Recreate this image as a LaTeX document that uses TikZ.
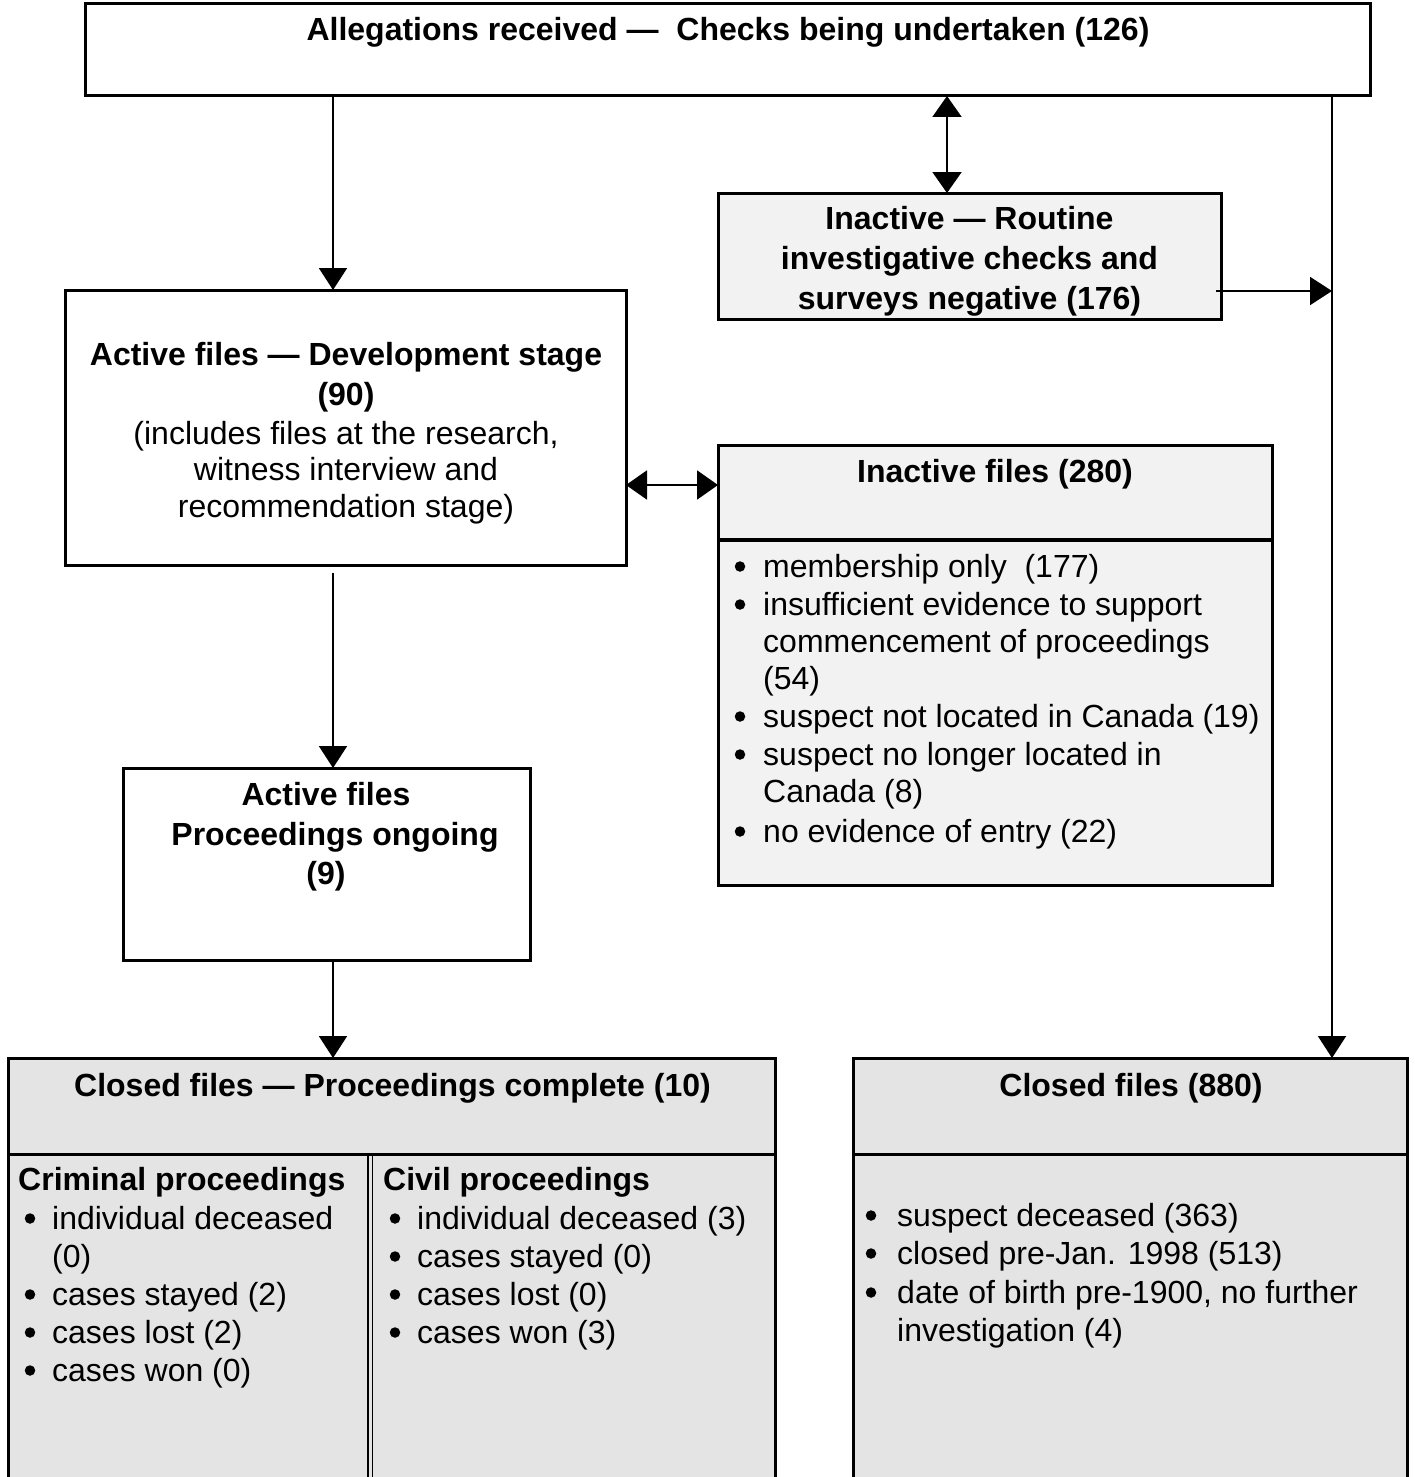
\documentclass[tikz,border=0pt]{standalone}
\usepackage{fontspec}
\setmainfont{Liberation Sans}
\usetikzlibrary{arrows.meta}
\definecolor{lgray}{HTML}{F2F2F2}
\definecolor{mgray}{HTML}{E4E4E4}
\newcommand\fsz{\fontsize{32pt}{37pt}\selectfont}
\begin{document}
\begin{tikzpicture}[x=1pt,y=-1pt,
  box/.style={draw, line width=3pt, inner sep=0pt, outer sep=0pt},
  arr/.style={line width=2pt, -{Triangle[length=22pt,width=28pt]}},
  darr/.style={line width=2pt, {Triangle[length=21pt,width=29pt]}-{Triangle[length=21pt,width=29pt]}},
  tc/.style={anchor=base, inner sep=0pt, font=\fsz},
  tb/.style={anchor=base, inner sep=0pt, font=\fsz\bfseries},
  tl/.style={anchor=base west, inner sep=0pt, font=\fsz},
  tbl/.style={anchor=base west, inner sep=0pt, font=\fsz\bfseries},
  bul/.style={circle, fill=black, inner sep=0pt, minimum size=10.5pt, yshift=10.5pt}
]
\useasboundingbox (0,0) rectangle (1415,1477);
\clip (0,0) rectangle (1415,1477);

% boxes
\node[box, fill=white, minimum width=1285pt, minimum height=92pt] (top) at (727.5,50) {};
\node[box, fill=lgray, minimum width=503pt, minimum height=126pt] (routine) at (969.5,256) {};
\node[box, fill=white, minimum width=561pt, minimum height=275pt] (active) at (345.5,427.5) {};
\node[box, fill=lgray, minimum width=554pt, minimum height=440pt] (inactive) at (995,665) {};
\node[box, fill=white, minimum width=407pt, minimum height=192pt] (proc) at (326.5,864) {};
\node[box, fill=mgray, minimum width=767pt, minimum height=442pt] (closedA) at (391.5,1279) {};
\node[box, fill=mgray, minimum width=554pt, minimum height=442pt] (closedB) at (1130,1279) {};

% separators
\coordinate (sepI) at (0,540);
\draw[line width=4.5pt] (inactive.west |- sepI) -- (inactive.east |- sepI);
\coordinate (sepC) at (0,1154);
\draw[line width=3pt] (closedA.west |- sepC) -- (closedA.east |- sepC);
\draw[line width=3pt] (closedB.west |- sepC) -- (closedB.east |- sepC);
\coordinate (colL) at (368,1154);
\coordinate (colR) at (372.5,1154);
\draw[line width=1.5pt] (colL) -- (colL |- closedA.south);
\draw[line width=1.5pt] (colR) -- (colR |- closedA.south);

% connectors
\coordinate (xL) at (333,0);
\coordinate (xM) at (947,0);
\coordinate (xR) at (1332,0);
\coordinate (yR) at (0,291);
\coordinate (yA) at (0,485);
\coordinate (sA) at (333,573);
\draw[arr] (top.south -| xL) -- (active.north -| xL);
\draw[darr] (top.south -| xM) -- (routine.north -| xM);
\draw[arr] (top.south -| xR) -- (closedB.north -| xR);
\draw[arr] ([xshift=-5pt]routine.east |- yR) -- (xR |- yR);
\draw[darr] (active.east |- yA) -- (inactive.west |- yA);
\draw[arr] (sA) -- (proc.north -| sA);
\draw[arr] (proc.south -| xL) -- (closedA.north -| xL);

% texts
\node[tb] (t1) at (728,41) {Allegations received —~ Checks being undertaken (126)};

\node[tb] (r1) at (969.5,229) {Inactive — Routine};
\node[tb] (r2) at (969.5,269) {investigative checks and};
\node[tb] (r3) at (969.5,309) {surveys negative (176)};

\node[tb] (a1) at (346,365) {Active files — Development stage};
\node[tb] (a2) at (346,405) {(90)};
\node[tc] (a3) at (346,444) {(includes files at the research,};
\node[tc] (a4) at (346,480) {witness interview and};
\node[tc] (a5) at (346,517) {recommendation stage)};

\node[tb] (i0) at (995,482) {Inactive files (280)};
\node[bul] (ib1) at (740,577) {};
\node[tl] (i1) at (763,577) {membership only~ (177)};
\node[bul] (ib2) at (740,615) {};
\node[tl] (i2) at (763,615) {insufficient evidence to support};
\node[tl] (i3) at (763,652) {commencement of proceedings};
\node[tl] (i4) at (763,689) {(54)};
\node[bul] (ib5) at (740,727) {};
\node[tl] (i5) at (763,727) {suspect not located in Canada (19)};
\node[bul] (ib6) at (740,765) {};
\node[tl] (i6) at (763,765) {suspect no longer located in};
\node[tl] (i7) at (763,802) {Canada (8)};
\node[bul] (ib8) at (740,842) {};
\node[tl] (i8) at (763,842) {no evidence of entry (22)};

\node[tb] (p1) at (326,805) {Active files};
\node[tb] (p2) at (335,845) {Proceedings ongoing};
\node[tb] (p3) at (326,884) {(9)};

\node[tb] (c0) at (392.5,1096) {Closed files — Proceedings complete (10)};
\node[tbl] (cc0) at (18,1190) {Criminal proceedings};
\node[bul] (ccb1) at (30,1229) {};
\node[tl] (cc1) at (52,1229) {individual deceased};
\node[tl] (cc2) at (52,1267) {(0)};
\node[bul] (ccb3) at (30,1305) {};
\node[tl] (cc3) at (52,1305) {cases stayed (2)};
\node[bul] (ccb4) at (30,1343) {};
\node[tl] (cc4) at (52,1343) {cases lost (2)};
\node[bul] (ccb5) at (30,1381) {};
\node[tl] (cc5) at (52,1381) {cases won (0)};

\node[tbl] (cv0) at (383,1190) {Civil proceedings};
\node[bul] (cvb1) at (395,1229) {};
\node[tl] (cv1) at (417,1229) {individual deceased (3)};
\node[bul] (cvb2) at (395,1267) {};
\node[tl] (cv2) at (417,1267) {cases stayed (0)};
\node[bul] (cvb3) at (395,1305) {};
\node[tl] (cv3) at (417,1305) {cases lost (0)};
\node[bul] (cvb4) at (395,1343) {};
\node[tl] (cv4) at (417,1343) {cases won (3)};

\node[tb] (d0) at (1131,1096) {Closed files (880)};
\node[bul] (db1) at (871,1226) {};
\node[tl] (d1) at (897,1226) {suspect deceased (363)};
\node[bul] (db2) at (871,1264) {};
\node[tl] (d2) at (897,1264) {closed pre-Jan. 1998 (513)};
\node[bul] (db3) at (871,1303) {};
\node[tl] (d3) at (897,1303) {date of birth pre-1900, no further};
\node[tl] (d4) at (897,1341) {investigation (4)};
\end{tikzpicture}
\end{document}
